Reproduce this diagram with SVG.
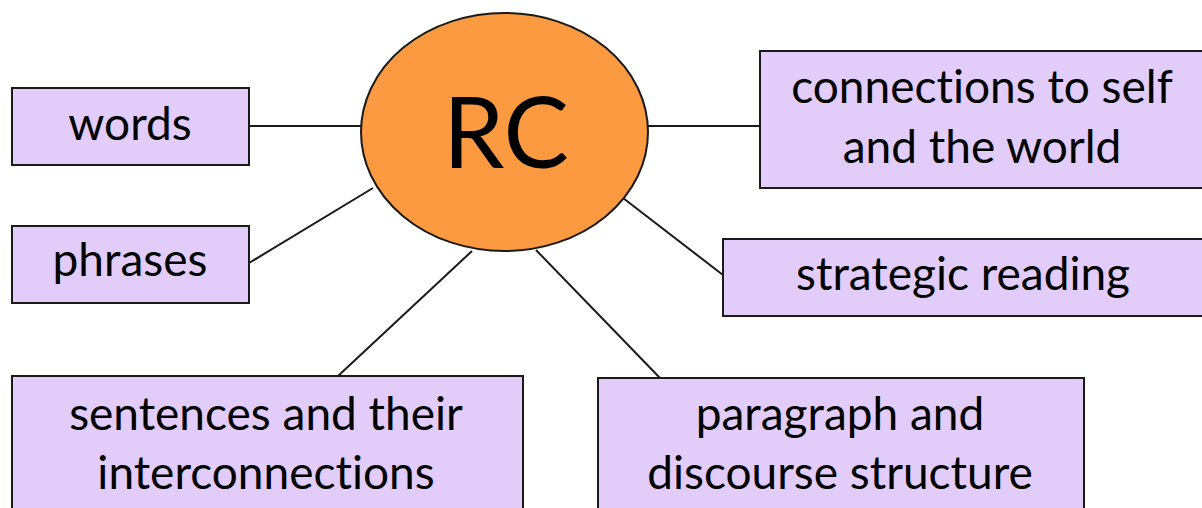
<svg xmlns="http://www.w3.org/2000/svg" width="1202" height="508" viewBox="0 0 1202 508">
<style>
.box{fill:#E2CCF9;stroke:#1a1a1a;stroke-width:2}
.lbl{font-family:Lato,"Open Sans","Liberation Sans",sans-serif;font-size:46px;fill:#000;text-anchor:middle;font-variant-ligatures:none}
.edge{stroke:#1a1a1a;stroke-width:2;fill:none}
</style>
<rect width="1202" height="508" fill="#fff"/>
<g id="connectors">
<line class="edge" x1="249" y1="126" x2="362" y2="126"/>
<line class="edge" x1="249" y1="263" x2="373" y2="188"/>
<line class="edge" x1="647" y1="126" x2="760" y2="126"/>
<line class="edge" x1="623" y1="198" x2="723" y2="275"/>
<line class="edge" x1="472" y1="251" x2="338" y2="376"/>
<line class="edge" x1="536" y1="250" x2="660" y2="378"/>
</g>
<g id="rc">
<ellipse cx="504.5" cy="132" rx="143.5" ry="119" fill="#FB9A40" stroke="#1a1a1a" stroke-width="2"/>
<text class="lbl" x="506" y="168" style="font-size:98px">RC</text>
</g>
<g id="words">
<rect class="box" x="12" y="88" width="237" height="77"/>
<text class="lbl" x="130" y="140">words</text>
</g>
<g id="phrases">
<rect class="box" x="12" y="226" width="237" height="77"/>
<text class="lbl" x="130" y="276">phrases</text>
</g>
<g id="connections">
<rect class="box" x="760" y="51" width="450" height="137"/>
<text class="lbl" x="982" y="103">connections to self</text>
<text class="lbl" x="982" y="163">and the world</text>
</g>
<g id="strategic">
<rect class="box" x="723" y="239" width="490" height="77"/>
<text class="lbl" x="963" y="290">strategic reading</text>
</g>
<g id="sentences">
<rect class="box" x="12" y="376" width="511" height="150"/>
<text class="lbl" x="266" y="430">sentences and their</text>
<text class="lbl" x="266" y="489">interconnections</text>
</g>
<g id="paragraph">
<rect class="box" x="598" y="378" width="486" height="150"/>
<text class="lbl" x="840" y="430">paragraph and</text>
<text class="lbl" x="840" y="489">discourse structure</text>
</g>
</svg>
